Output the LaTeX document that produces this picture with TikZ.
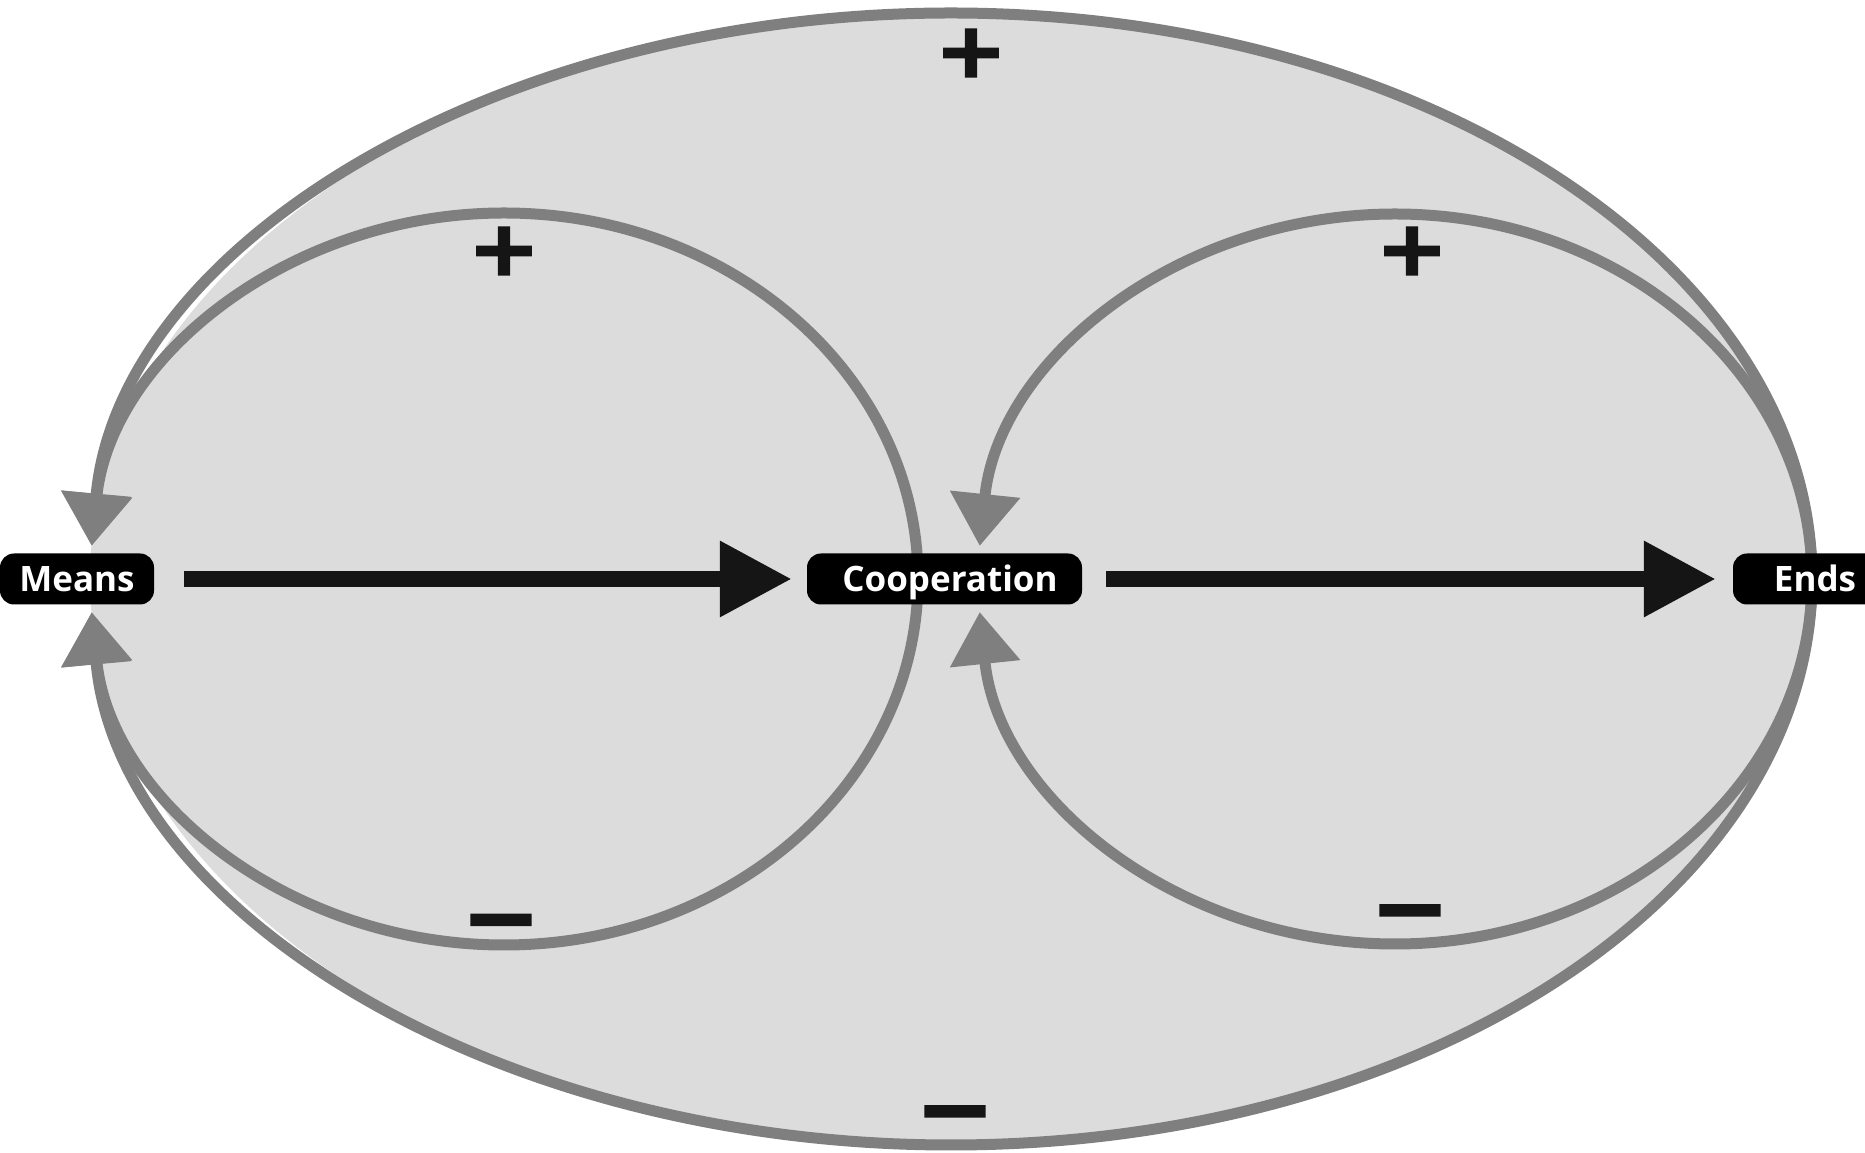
\documentclass[tikz,border=0pt]{standalone}
\usepackage{fontspec}
\setmainfont{Open Sans}
\newfontfamily\signfont[FakeBold=3]{DejaVu Sans}
\usetikzlibrary{arrows.meta}
\definecolor{bgfill}{HTML}{DCDCDC}
\definecolor{loopgray}{HTML}{7F7F7F}
\definecolor{arrowblack}{HTML}{151515}
\newcommand\signminus{\raisebox{-27pt}[6pt][6pt]{\scalebox{1.1}[1]{−}}}
\begin{document}
\begin{tikzpicture}[x=1pt,y=1pt,
  loopline/.style={draw=loopgray, line width=11pt, -{Triangle[length=52pt,width=68pt]}},
  var/.style={fill=black, text=white, rounded corners=14pt, minimum height=51pt, inner sep=0pt,
    text height=25pt, text depth=0pt, font=\fontsize{35}{40}\selectfont\bfseries},
  causal/.style={draw=arrowblack, line width=16pt, -{Triangle[length=72pt,width=72pt]}},
  sign/.style={inner sep=0pt, text=arrowblack, font=\signfont\fontsize{85}{85}\selectfont\bfseries}]
\useasboundingbox (0,0) rectangle (1865,1153);
\fill[bgfill] (951,574) ellipse[x radius=861, y radius=566];
% outer loop (Ends -> Means)
\draw[loopline] (1812,574) arc[start angle=0,end angle=176.6,x radius=861,y radius=566];
\draw[loopline] (1812,574) arc[start angle=0,end angle=-176.6,x radius=861,y radius=566];
% left loop (Cooperation -> Means)
\draw[loopline] (918,574) arc[start angle=0,end angle=174.8,x radius=414,y radius=366];
\draw[loopline] (918,574) arc[start angle=0,end angle=-174.8,x radius=414,y radius=366];
% right loop (Ends -> Cooperation)
\draw[loopline] (1812,574) arc[start angle=0,end angle=174.8,x radius=417,y radius=365];
\draw[loopline] (1812,574) arc[start angle=0,end angle=-174.8,x radius=417,y radius=365];
% variables
\node[var, minimum width=154pt] (means) at (77,574) {Means};
\node[var, minimum width=275pt] (coop) at (944.5,574) {\hspace*{11pt}Cooperation};
\node[var, minimum width=164pt] (ends) at (1815,574) {Ends};
% causal links
\draw[causal, shorten <=30pt, shorten >=15pt] (means) -- (coop);
\draw[causal, shorten <=24pt, shorten >=17pt] (coop) -- (ends);
% polarity signs
\node[sign] (pout) at (971,1100) {\scalebox{1}[0.88]{+}};
\node[sign] (pleft) at (504,902) {\scalebox{1}[0.88]{+}};
\node[sign] (pright) at (1412,902) {\scalebox{1}[0.88]{+}};
\node[sign] (mleft) at (501,233.5) {\signminus};
\node[sign] (mright) at (1410,243) {\signminus};
\node[sign] (mout) at (955,42) {\signminus};
\end{tikzpicture}
\end{document}
